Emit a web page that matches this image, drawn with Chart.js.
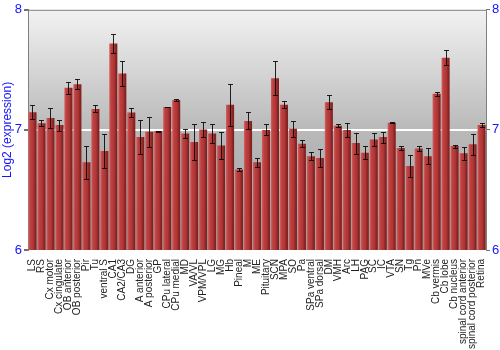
<!DOCTYPE html>
<html>
<head>
<meta charset="utf-8">
<script src="https://cdn.jsdelivr.net/npm/chart.js@4"></script>
<style>
  body { margin: 0; background: #fff; }
  #wrap { width: 500px; height: 350px; }
</style>
</head>
<body>
<div id="wrap"><canvas id="js-chart" width="500" height="350"></canvas></div>
<script>
'use strict';
const regions = ['LS', 'RS', 'Cx motor', 'Cx cingulate', 'OB anterior', 'OB posterior', 'Pir', 'Tu',
  'ventral S', 'CA1', 'CA2/CA3', 'DG', 'A anterior', 'A posterior', 'GP', 'CPu lateral', 'CPu medial',
  'MD', 'VA/VL', 'VPM/VPL', 'LG', 'MG', 'Hb', 'Pineal', 'M', 'ME', 'Pituitary', 'SCN', 'MPA', 'SO',
  'Pa', 'SPa ventral', 'SPa dorsal', 'DM', 'VMH', 'Arc', 'LH', 'PAG', 'SC', 'IC', 'VTA', 'SN', 'Tg',
  'Pn', 'MVe', 'Cb vermis', 'Cb lobe', 'Cb nucleus', 'spinal cord anterior', 'spinal cord posterior',
  'Retina'];
const expression = [7.147, 7.055, 7.10, 7.04, 7.35, 7.38, 6.73, 7.175,
  6.825, 7.72, 7.47, 7.145, 6.94, 6.985, 6.99, 7.19, 7.25,
  6.97, 6.90, 7.003, 6.97, 6.87, 7.21, 6.67, 7.075, 6.73, 7.0, 7.43, 7.21, 7.01,
  6.885, 6.78, 6.765, 7.23, 7.035, 7.0, 6.89, 6.81, 6.92, 6.94, 7.06, 6.85, 6.70,
  6.845, 6.78, 7.30, 7.60, 6.865, 6.805, 6.88,
  7.04];
const errors = [0.06, 0.025, 0.085, 0.045, 0.05, 0.04, 0.135, 0.03,
  0.14, 0.08, 0.105, 0.04, 0.14, 0.125, 0.005, 0.003, 0.01,
  0.04, 0.15, 0.065, 0.075, 0.11, 0.175, 0.01, 0.07, 0.04, 0.045, 0.14, 0.03, 0.065,
  0.03, 0.033, 0.075, 0.057, 0.015, 0.055, 0.087, 0.053, 0.055, 0.045, 0.004, 0.02, 0.095,
  0.02, 0.066, 0.015, 0.063, 0.012, 0.053, 0.087,
  0.016];
const yTicks = [6, 7, 8];

const blue = '#1414ff';

const backdrop = {
  id: 'backdrop',
  beforeDraw(chart) {
    const a = chart.chartArea;
    const ctx = chart.ctx;
    const g = ctx.createLinearGradient(0, a.top, 0, a.bottom);
    g.addColorStop(0, '#f2f2f2');
    g.addColorStop(0.5, '#b9b9b9');
    g.addColorStop(1, '#a0a0a0');
    ctx.save();
    ctx.fillStyle = g;
    ctx.fillRect(a.left, a.top, a.right - a.left, a.bottom - a.top);
    ctx.strokeStyle = '#808080';
    ctx.lineWidth = 1;
    ctx.beginPath();
    ctx.moveTo(a.left, a.top + 0.5);
    ctx.lineTo(a.right, a.top + 0.5);
    ctx.stroke();
    ctx.restore();
  }
};

const errorBars = {
  id: 'errorBars',
  afterDatasetsDraw(chart) {
    const ctx = chart.ctx;
    const y = chart.scales.y;
    const meta = chart.getDatasetMeta(0);
    ctx.save();
    ctx.strokeStyle = 'rgba(0,0,0,0.85)';
    ctx.lineWidth = 1;
    meta.data.forEach(function(bar, i) {
      const x = Math.round(bar.x) + 0.5;
      const hi = Math.round(y.getPixelForValue(expression[i] + errors[i])) + 0.5;
      const lo = Math.round(y.getPixelForValue(expression[i] - errors[i])) + 0.5;
      ctx.beginPath();
      ctx.moveTo(x, hi);
      ctx.lineTo(x, lo);
      ctx.moveTo(x - 2.5, hi);
      ctx.lineTo(x + 2.5, hi);
      ctx.moveTo(x - 2.5, lo);
      ctx.lineTo(x + 2.5, lo);
      ctx.stroke();
    });
    ctx.restore();
  }
};

const barFill = function(context) {
  const chart = context.chart;
  const xs = chart.scales.x;
  if (!xs || !chart.chartArea) return '#b33a3a';
  const cx = xs.getPixelForValue(context.dataIndex);
  const hw = (xs.width / regions.length) * 0.9 / 2;
  const g = chart.ctx.createLinearGradient(cx - hw, 0, cx + hw, 0);
  g.addColorStop(0, '#d06262');
  g.addColorStop(0.25, '#bd4040');
  g.addColorStop(0.6, '#b03535');
  g.addColorStop(0.8, '#8e2626');
  g.addColorStop(1, '#7a1e1e');
  return g;
};

const ctx = document.getElementById('js-chart').getContext('2d');
const myChart = new Chart(ctx, {
  type: 'bar',
  data: {
    labels: regions,
    datasets: [
      {
        label: 'Log2 (expression)',
        data: expression,
        backgroundColor: barFill,
        borderWidth: 0,
        barPercentage: 0.9,
        categoryPercentage: 1.0
      }
    ]
  },
  options: {
    responsive: false,
    animation: false,
    layout: { padding: { top: 9, left: 0, right: 0, bottom: 0 } },
    plugins: {
      legend: { display: false },
      tooltip: { enabled: false }
    },
    scales: {
      x: {
        grid: { display: false },
        border: { display: false },
        ticks: {
          autoSkip: false,
          minRotation: 90,
          maxRotation: 90,
          padding: 1,
          color: '#222',
          font: { family: 'Liberation Sans, Arial', size: 10 }
        },
        afterFit: function(scale) { scale.height = 100; }
      },
      y: {
        min: 6,
        max: 8,
        afterBuildTicks: function(scale) {
          scale.ticks = yTicks.map(function(v) { return { value: v }; });
        },
        grid: {
          color: function(c) { return c.tick && c.tick.value === 7 ? '#ffffff' : 'rgba(0,0,0,0)'; },
          lineWidth: 2,
          tickColor: '#707070',
          tickLength: 4
        },
        border: { color: '#808080' },
        ticks: {
          color: blue,
          padding: 2,
          font: { family: 'Liberation Sans, Arial', size: 13 }
        },
        title: {
          display: true,
          text: 'Log2 (expression)',
          color: blue,
          padding: 0,
          font: { family: 'Liberation Sans, Arial', size: 12 }
        },
        afterFit: function(scale) { scale.width = 28; }
      },
      y2: {
        position: 'right',
        min: 6,
        max: 8,
        afterBuildTicks: function(scale) {
          scale.ticks = yTicks.map(function(v) { return { value: v }; });
        },
        grid: {
          drawOnChartArea: false,
          tickColor: '#707070',
          tickLength: 4
        },
        border: { color: '#808080' },
        ticks: {
          color: blue,
          padding: 2,
          font: { family: 'Liberation Sans, Arial', size: 13 }
        },
        afterFit: function(scale) { scale.width = 14; }
      }
    }
  },
  plugins: [backdrop, errorBars]
});
</script>
</body>
</html>
